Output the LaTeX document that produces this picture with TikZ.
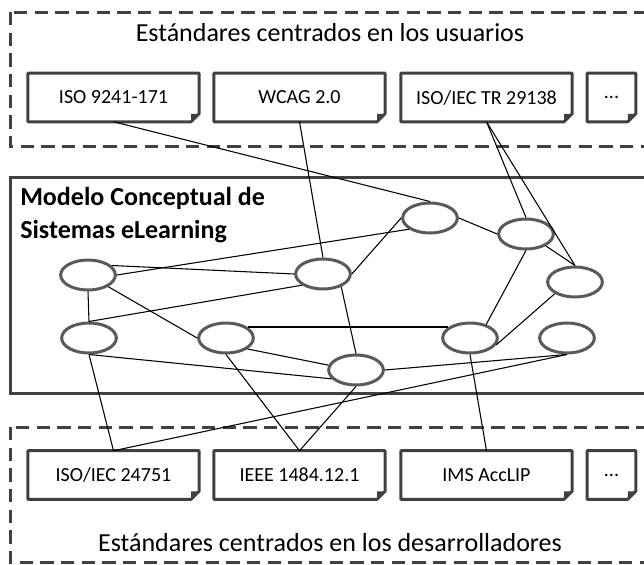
\documentclass[tikz,border=0pt]{standalone}
\usepackage{fontspec}
\setmainfont{Carlito}
\usetikzlibrary{shapes.geometric}
\definecolor{framegray}{HTML}{404040}
\definecolor{ovalgray}{HTML}{5A5A5A}

\begin{document}
\begin{tikzpicture}[x=0.75pt, y=-0.75pt]
    \tikzstyle{every node}=[align = center]
    \tikzstyle{group} = [draw=framegray, line width=2.25pt, dash pattern=on 10pt off 5.5pt]
    \tikzstyle{modelframe} = [draw=framegray, line width=2.25pt]
    \tikzstyle{grouptitle} = [font=\fontsize{19.5}{24}\selectfont]
    \tikzstyle{doc} = [minimum width=128pt, minimum height=36pt, inner sep=0pt, font=\fontsize{15}{18}\selectfont]
    \tikzstyle{dots} = [doc, minimum width=36pt]
    \tikzstyle{sheet} = [draw=framegray, line width=2.25pt, line join=round]
    \tikzstyle{concept} = [ellipse, draw=ovalgray, fill=white, line width=2.25pt, minimum width=41pt, minimum height=22.5pt, inner sep=0pt]
    \tikzstyle{link} = [draw=black, line width=0.8pt]

    \useasboundingbox (0,0) rectangle (644,565);
    \clip (0,0) rectangle (644,565);

    % marcos
    \draw[group] (10,12) rectangle (670,146);
    \draw[modelframe] (10,177) rectangle (670,393);
    \draw[group] (10,427) rectangle (670,562);

    \node[grouptitle] (users) at (330,33) {Estándares centrados en los usuarios};
    \node[grouptitle] (devs) at (330,543) {Estándares centrados en los desarrolladores};
    \node[font=\bfseries\fontsize{19.5}{25}\selectfont, align=left, anchor=north west, inner sep=0pt]
        (model) at (20,187) {Modelo Conceptual de\\Sistemas eLearning};

    % estandares
    \node[doc] (iso9241) at (113.5,97.5) {ISO 9241-171};
    \node[doc] (wcag) at (299.5,97.5) {WCAG 2.0};
    \node[doc] (isotr) at (486.5,97.5) {ISO/IEC TR 29138};
    \node[dots] (moreusers) at (611.5,97.5) {...};
    \node[doc] (iso24751) at (113.5,475) {ISO/IEC 24751};
    \node[doc] (ieee) at (299.5,475) {IEEE 1484.12.1};
    \node[doc] (ims) at (486.5,475) {IMS AccLIP};
    \node[dots] (moredevs) at (611.5,475) {...};

    \foreach \d in {iso9241, wcag, isotr, moreusers, iso24751, ieee, ims, moredevs} {
        \draw[sheet] (\d.north west) -- (\d.north east) -- ([yshift=6pt]\d.south east)
            -- ([xshift=-6pt]\d.south east) -- (\d.south west) -- cycle;
        \fill[framegray] ([xshift=-6pt]\d.south east) -- ([yshift=6pt]\d.south east)
            -- ([shift={(-6pt,6pt)}]\d.south east) -- cycle;
    }

    % conceptos
    \node[concept] (ca) at (430,218) {};
    \node[concept] (cb) at (526,234) {};
    \node[concept] (cc) at (575,282) {};
    \node[concept] (cd) at (88,275) {};
    \node[concept] (ce) at (323,274) {};
    \node[concept] (cf) at (89,338) {};
    \node[concept] (cg) at (226,338) {};
    \node[concept] (ch) at (356,370) {};
    \node[concept] (ci) at (470,338) {};
    \node[concept] (cj) at (567,338) {};

    \draw[link] (cd.22) -- (ce.west);
    \draw[link] (cd.east) -- (ca.208);
    \draw[link] (cd.south) -- (cf.north);
    \draw[link] (cd.-30) -- (cg.west);
    \draw[link] (cf.north) -- (ce.208);
    \draw[link] (ce.east) -- (ca.west);
    \draw[link] (ce.-35) -- (ch.north);
    \draw[link] (ca.east) -- (cb.west);
    \draw[link] (cb.-31) -- (cc.north);
    \draw[link] (cb.south) -- (ci.40);
    \draw[link] (cc.210) -- (ci.-15);
    \draw[link] (cg.27) -- (ci.153);
    \draw[link] (cg.-27) -- (ch.170);
    \draw[link] (cf.south) -- (ch.200);
    \draw[link] (ch.east) -- (cj.south);

    \draw[link] (iso9241.south) -- (ca.north);
    \draw[link] (wcag.south) -- (ce.north);
    \draw[link] (isotr.south) -- (cb.north);
    \draw[link] (isotr.south) -- (cc.north);
    \draw[link] (cf.south) -- (iso24751.north);
    \draw[link] (cj.south) -- (iso24751.north);
    \draw[link] (cg.south) -- (ieee.north);
    \draw[link] (ch.south) -- (ieee.north);
    \draw[link] (ci.south) -- (ims.north);
\end{tikzpicture}
\end{document}
